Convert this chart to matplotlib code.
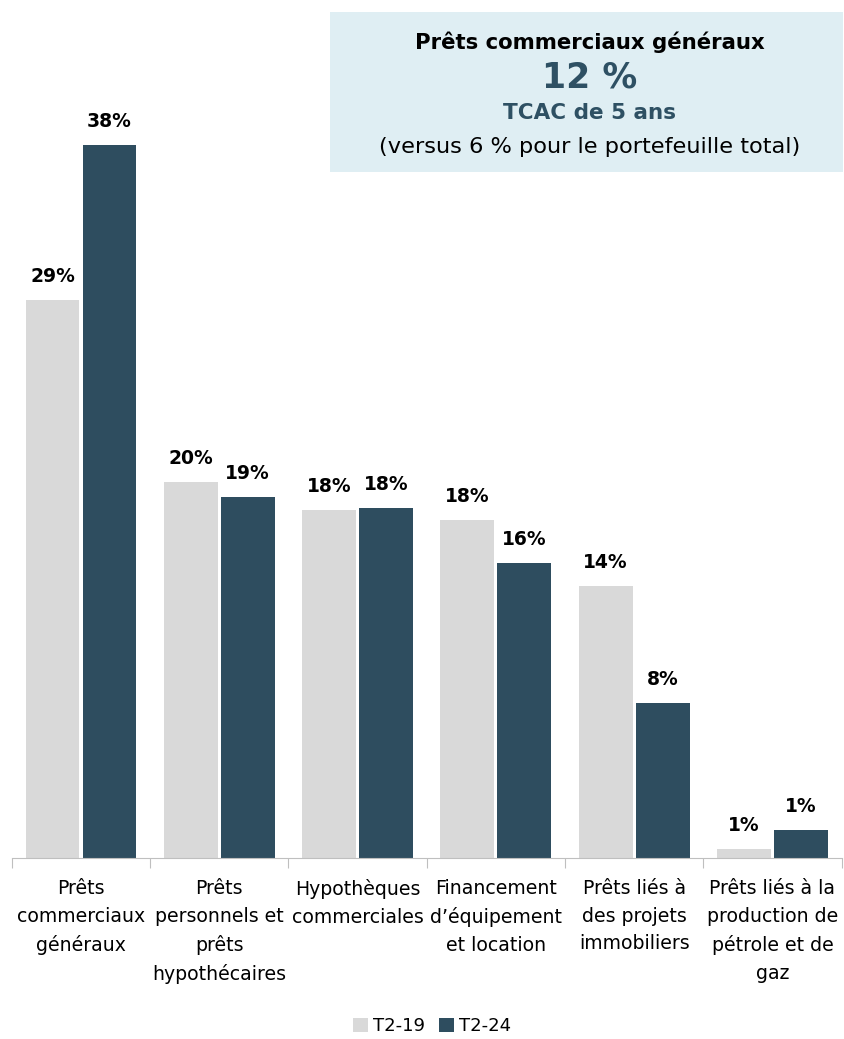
import matplotlib.pyplot as plt
import numpy as np
from matplotlib.patches import Rectangle

plt.rcParams['font.family'] = ['DejaVu Sans']

categories = ["Prêts\ncommerciaux\ngénéraux",
              "Prêts\npersonnels et\nprêts\nhypothécaires",
              "Hypothèques\ncommerciales",
              "Financement\nd’équipement\net location",
              "Prêts liés à\ndes projets\nimmobiliers",
              "Prêts liés à la\nproduction de\npétrole et de\ngaz"]
t2_19 = [29.5, 19.9, 18.4, 17.9, 14.4, 0.5]
t2_24 = [37.7, 19.1, 18.5, 15.6, 8.2, 1.5]
labels_19 = ["29%", "20%", "18%", "18%", "14%", "1%"]
labels_24 = ["38%", "19%", "18%", "16%", "8%", "1%"]

light = "#D9D9D9"
dark = "#2E4D5F"

fig = plt.figure(figsize=(8.45, 10.39), dpi=100)
ax = fig.add_axes([0.014, 0.174, 0.982, 0.728])

x = np.arange(len(categories))
w = 0.39
b1 = ax.bar(x - w / 2 - 0.011, t2_19, w, color=light, label="T2-19")
b2 = ax.bar(x + w / 2 + 0.011, t2_24, w, color=dark, label="T2-24")

for bars, labs in [(b1, labels_19), (b2, labels_24)]:
    for rect, lab in zip(bars, labs):
        ax.annotate(lab, (rect.get_x() + rect.get_width() / 2, rect.get_height()),
                    xytext=(0, 17), textcoords="offset points", ha="center", va="center",
                    fontsize=13.5, fontweight="bold")

ax.set_xlim(-0.5, len(categories) - 0.5)
ax.set_ylim(0, 40)
for s in ["top", "right", "left"]:
    ax.spines[s].set_visible(False)
ax.spines["bottom"].set_color("#BFBFBF")
ax.set_yticks([])
ax.set_xticks(np.arange(-0.5, len(categories)), minor=False)
ax.set_xticklabels([])
ax.tick_params(axis="x", length=7, color="#BFBFBF")
ax.set_xticks(x, minor=True)
ax.set_xticklabels(categories, minor=True, fontsize=13.6, linespacing=1.58)
ax.tick_params(axis="x", which="minor", length=0, pad=15)

# callout box
fig.patches.append(Rectangle((330 / 845, 1 - 172 / 1039), 513 / 845, 160 / 1039,
                             transform=fig.transFigure, facecolor="#DFEEF3",
                             edgecolor="none", zorder=0))
cx = 590 / 845
fig.text(cx, 1 - 42 / 1039, "Prêts commerciaux généraux", ha="center", va="center",
         fontsize=15.3, fontweight="bold")
fig.text(cx, 1 - 78 / 1039, "12 %", ha="center", va="center",
         fontsize=25, fontweight="bold", color="#2E5063")
fig.text(cx, 1 - 113 / 1039, "TCAC de 5 ans", ha="center", va="center",
         fontsize=15.5, fontweight="bold", color="#2E5063")
fig.text(cx, 1 - 147 / 1039, "(versus 6 % pour le portefeuille total)", ha="center",
         va="center", fontsize=16.2)

fig.legend(handles=[b1, b2], labels=["T2-19", "T2-24"], loc="center",
           bbox_to_anchor=(0.511, 1 - 1026 / 1039), ncol=2, frameon=False,
           fontsize=13, handlelength=0.85, handleheight=0.85, handletextpad=0.25,
           columnspacing=0.8)

fig.savefig("out.png", dpi=100)
